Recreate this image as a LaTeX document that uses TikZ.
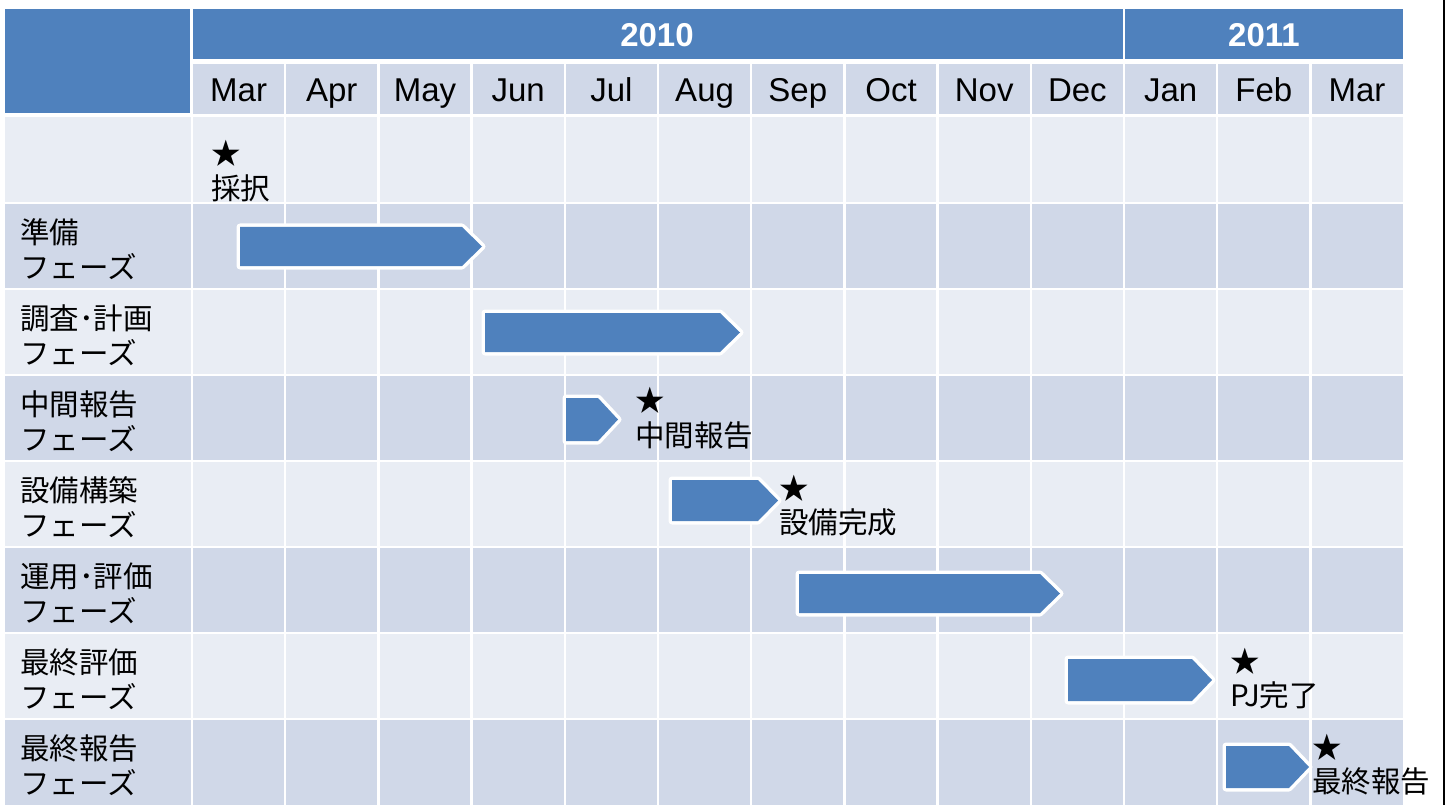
\documentclass[tikz,border=0pt]{standalone}
\usepackage{fontspec}
\setmainfont{Liberation Sans}
\newfontfamily\jpfont{Noto Sans CJK JP}
\usepackage{tikz}

\definecolor{hdrblue}{HTML}{4F81BD}
\definecolor{rowdark}{HTML}{D0D8E8}
\definecolor{rowlight}{HTML}{E9EDF4}

% bar: left, tip, top, bottom
\newcommand{\phasearrow}[4]{\fill[phasebar] (#1,#3) -- ({#2-20},#3) -- (#2,{(#3+#4)/2}) -- ({#2-20},#4) -- (#1,#4) -- cycle;}
% milestone: name, x, star y, text y, text
\newcommand{\milestone}[5]{%
  \node[milelbl] (#1-star) at (#2,#3) {★};
  \node[milelbl] (#1) at (#2,#4) {#5};}

\begin{document}
\begin{tikzpicture}[x=1pt,y=-1pt,
    gridline/.style={white,line width=2.5pt},
    yearlbl/.style={anchor=base,text=white,inner sep=0pt,font=\fontsize{33}{36}\selectfont\bfseries},
    monthlbl/.style={anchor=base,inner sep=0pt,font=\fontsize{33}{36}\selectfont},
    phaselbl/.style={anchor=west,inner sep=0pt,font=\jpfont\fontsize{29.5}{31}\selectfont},
    milelbl/.style={anchor=west,inner sep=0pt,font=\jpfont\fontsize{29.5}{31}\selectfont},
    phasebar/.style={fill=hdrblue,preaction={draw=white,line width=7pt,line join=round}}]
        \fill[white] (0,0) rectangle (1446,805);
        \useasboundingbox (0,0) rectangle (1446,805);

        % table body
        \foreach \r in {0,...,7}{
            \pgfmathtruncatemacro\odd{mod(\r,2)}
            \ifnum\odd=1 \def\rc{rowdark}\else\def\rc{rowlight}\fi
            \fill[\rc] (5,{117+86*\r}) rectangle (1403,{117+86*(\r+1)});
        }
        \fill[hdrblue] (5,9) rectangle (190,113);
        \fill[hdrblue] (192,9) rectangle (1403,61);
        \fill[rowdark] (192,61) rectangle (1403,116);

        \draw[gridline] (192,9) -- (192,805);
        \draw[gridline] (1124.0,9) -- (1124.0,805);
        \foreach \i in {1,...,12}
            \draw[gridline] ({192+93.2*\i},61) -- ({192+93.2*\i},805);
        \draw[white,line width=5pt] (192,62) -- (1403,62);
        \draw[white,line width=3.5pt] (5,115.5) -- (1403,115.5);
        \foreach \r in {1,...,7}
            \draw[gridline] (5,{117+86*\r}) -- (1403,{117+86*\r});

        % years and months
        \node[yearlbl] (y2010) at (657,47) {2010};
        \node[yearlbl] (y2011) at (1264,47) {2011};
        \foreach \m [count=\i from 0] in {Mar,Apr,May,Jun,Jul,Aug,Sep,Oct,Nov,Dec,Jan,Feb,Mar}
            \node[monthlbl] (m\i) at ({192+93.2*(\i+0.5)},102) {\m};

        % phase names
        \foreach \r/\nm/\t in {1/prep/準備,2/survey/調査･計画,3/mid/中間報告,4/build/設備構築,
                               5/ops/運用･評価,6/evalf/最終評価,7/report/最終報告}{
            \node[phaselbl] (\nm-a) at (20,{117+86*\r+29}) {\t};
            \node[phaselbl] (\nm-b) at (20,{117+86*\r+64}) {フェーズ};
        }

        % bars
        \phasearrow{240}{482}{227}{266}
        \phasearrow{485}{740}{313}{352}
        \phasearrow{566}{618}{398}{441}
        \phasearrow{672}{778}{480}{521}
        \phasearrow{799}{1060}{574}{613}
        \phasearrow{1068}{1212}{659}{701}
        \phasearrow{1226}{1309}{746}{788}

        % milestones
        \milestone{adopt}{211}{153}{188}{採択}
        \milestone{midrep}{635}{400}{435}{中間報告}
        \milestone{done}{779}{488}{522}{設備完成}
        \milestone{pjend}{1230}{661}{695}{PJ完了}
        \milestone{finrep}{1312}{747}{781}{最終報告}

        \draw[black,line width=1.2pt] (1444,0) -- (1444,805);
    \end{tikzpicture}
\end{document}
